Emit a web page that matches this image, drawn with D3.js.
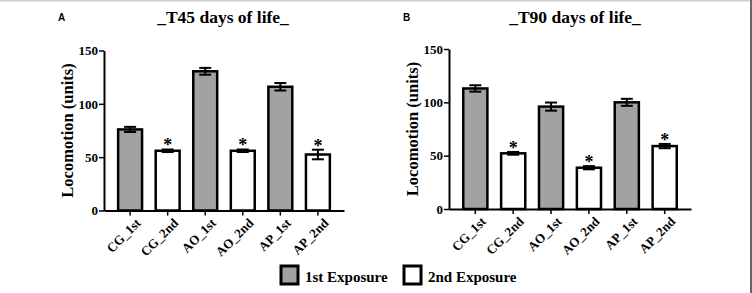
<!DOCTYPE html>
<html>
<head>
<meta charset="utf-8">
<script src="https://cdn.jsdelivr.net/npm/d3@7"></script>
<style>
  body { margin: 0; background: #fff; }
  svg { display: block; }
</style>
</head>
<body>
<svg class="locomotion"></svg>
<script>
var categories = ["CG_1st", "CG_2nd", "AO_1st", "AO_2nd", "AP_1st", "AP_2nd"];
var yTicks = [0, 50, 100, 150];

// T45 panel
var t45Means = [76, 56, 130.5, 56, 116, 52.5];
var t45Err = [2.4, 1.2, 3.2, 1.2, 3.5, 4.5];
var t45Sig = [false, true, false, true, false, true];

// T90 panel
var t90Means = [113, 52.2, 96, 38.7, 100, 59];
var t90Err = [3, 1.3, 3.8, 1.5, 3.3, 2];
var t90Sig = [false, true, false, true, false, true];

var exposures = ["1st Exposure", "2nd Exposure"];
var exposureColors = ["#a2a2a5", "#ffffff"];

var svgWidth = 752, svgHeight = 293;
var serif = "'Liberation Serif', 'Times New Roman', serif";

var svg = d3.select('svg.locomotion')
    .attr("width", svgWidth)
    .attr("height", svgHeight)
    .style('background-color', '#fff');

// frame edges of the figure
svg.append("line")
    .attr("x1", 0).attr("x2", svgWidth).attr("y1", 0.75).attr("y2", 0.75)
    .style("stroke", "#cfcfcf").style("stroke-width", 1.5);
svg.append("line")
    .attr("x1", 751).attr("x2", 751).attr("y1", 0).attr("y2", svgHeight)
    .style("stroke", "#666").style("stroke-width", 2);

function drawPanel(opt) {
    var width = opt.width, height = 160;

    var xScale = d3.scaleBand().domain(categories).range([0, width])
        .paddingInner(0.31).paddingOuter(0.35),
        yScale = d3.scaleLinear().domain([0, 150]).range([height, 0]);

    var g = svg.append("g")
        .attr("transform", "translate(" + opt.left + "," + opt.top + ")");

    // panel letter
    svg.append("text")
        .attr("x", opt.letterX)
        .attr("y", 21)
        .style("font-family", "'Liberation Sans', Arial, sans-serif")
        .style("font-weight", "bold")
        .style("font-size", "10px")
        .text(opt.letter);

    // title
    svg.append("text")
        .attr("x", opt.left + opt.titleDx)
        .attr("y", 23)
        .attr("text-anchor", "middle")
        .style("font-family", serif)
        .style("font-weight", "bold")
        .style("font-size", "17.5px")
        .text(opt.title);

    // Y label
    svg.append("text")
        .attr("text-anchor", "middle")
        .attr("transform", "translate(" + (opt.left - 31) + "," + (opt.top + 80) + ")rotate(-90)")
        .style("font-family", serif)
        .style("font-weight", "bold")
        .style("font-size", "16.5px")
        .text("Locomotion (units)");

    var data = categories.map(function (c, i) {
        return { name: c, mean: opt.means[i], err: opt.err[i], sig: opt.sig[i], first: i % 2 === 0 };
    });

    g.selectAll(".bar")
        .data(data)
        .enter()
        .append("rect")
        .attr("class", "bar")
        .attr("x", function (d) { return xScale(d.name) + 1; })
        .attr("y", function (d) { return yScale(d.mean); })
        .attr("width", xScale.bandwidth() - 2)
        .attr("height", function (d) { return height - yScale(d.mean); })
        .style("fill", function (d) { return d.first ? exposureColors[0] : exposureColors[1]; })
        .style("stroke", "#000")
        .style("stroke-width", 2.5);

    var capW = 6;
    var eb = g.selectAll(".err")
        .data(data)
        .enter()
        .append("g")
        .attr("class", "err")
        .style("stroke", "#000")
        .style("stroke-width", 2);

    eb.append("line")
        .attr("x1", function (d) { return xScale(d.name) + xScale.bandwidth() / 2; })
        .attr("x2", function (d) { return xScale(d.name) + xScale.bandwidth() / 2; })
        .attr("y1", function (d) { return yScale(d.mean + d.err); })
        .attr("y2", function (d) { return yScale(d.mean - d.err); });
    eb.append("line")
        .attr("x1", function (d) { return xScale(d.name) + xScale.bandwidth() / 2 - capW; })
        .attr("x2", function (d) { return xScale(d.name) + xScale.bandwidth() / 2 + capW; })
        .attr("y1", function (d) { return yScale(d.mean + d.err); })
        .attr("y2", function (d) { return yScale(d.mean + d.err); });
    eb.append("line")
        .attr("x1", function (d) { return xScale(d.name) + xScale.bandwidth() / 2 - capW; })
        .attr("x2", function (d) { return xScale(d.name) + xScale.bandwidth() / 2 + capW; })
        .attr("y1", function (d) { return yScale(d.mean - d.err); })
        .attr("y2", function (d) { return yScale(d.mean - d.err); });

    // significance stars
    g.selectAll(".star")
        .data(data.filter(function (d) { return d.sig; }))
        .enter()
        .append("text")
        .attr("class", "star")
        .attr("x", function (d) { return xScale(d.name) + xScale.bandwidth() / 2; })
        .attr("y", function (d) { return yScale(d.mean + d.err) + 2; })
        .attr("text-anchor", "middle")
        .style("font-family", serif)
        .style("font-weight", "bold")
        .style("font-size", "18px")
        .text("*");

    var xAxis = g.append("g")
        .attr("transform", "translate(0," + height + ")")
        .call(d3.axisBottom(xScale).tickSize(5).tickSizeOuter(0));
    xAxis.selectAll("text")
        .attr("y", 13)
        .attr("text-anchor", "end")
        .attr("dx", "-0.1em")
        .attr("dy", "0.35em")
        .attr("transform", "rotate(-45)");

    var yAxis = g.append("g")
        .call(d3.axisLeft(yScale).tickValues(yTicks).tickSize(5).tickSizeOuter(0).tickPadding(1));

    [xAxis, yAxis].forEach(function (a) {
        a.select(".domain").style("stroke", "#000").style("stroke-width", 2);
        a.selectAll(".tick line").style("stroke", "#000").style("stroke-width", 1.5);
        a.selectAll("text")
            .style("font-family", serif)
            .style("font-weight", "bold")
            .style("font-size", "13px")
            .style("fill", "#000");
    });
}

drawPanel({ left: 104, top: 50.5, width: 240, letter: "A", letterX: 58, titleDx: 119,
    title: "_T45 days of life_", means: t45Means, err: t45Err, sig: t45Sig });
drawPanel({ left: 449, top: 49, width: 242, letter: "B", letterX: 403, titleDx: 126,
    title: "_T90 days of life_", means: t90Means, err: t90Err, sig: t90Sig });

// legend
var legend = svg.append("g")
    .selectAll("g")
    .data(exposures)
    .enter()
    .append("g")
    .attr("transform", function (d, i) { return "translate(" + [281, 404][i] + ",266)"; });

legend.append("rect")
    .attr("width", 17)
    .attr("height", 18)
    .style("fill", function (d, i) { return exposureColors[i]; })
    .style("stroke", "#000")
    .style("stroke-width", 3);

legend.append("text")
    .attr("x", 24)
    .attr("y", 16)
    .style("font-family", serif)
    .style("font-weight", "bold")
    .style("font-size", "15px")
    .text(function (d) { return d; });
</script>
</body>
</html>
